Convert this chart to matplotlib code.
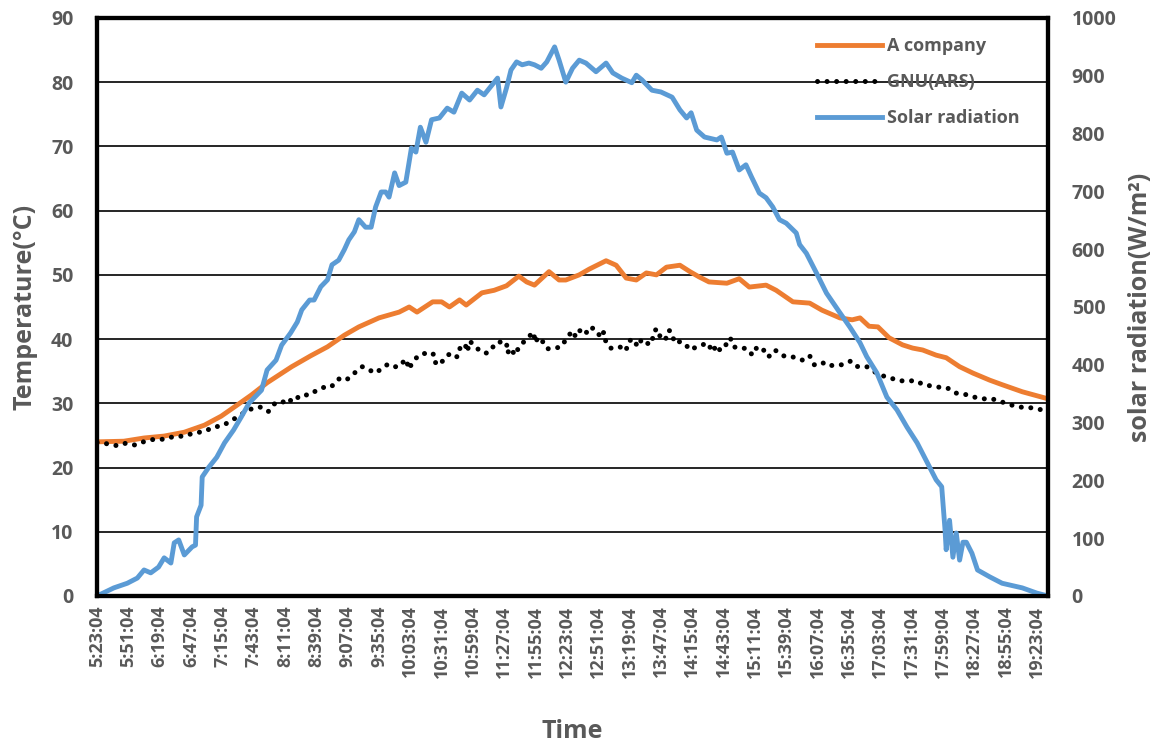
import matplotlib.pyplot as plt

plt.rcParams['font.family'] = ['Open Sans', 'DejaVu Sans']
plt.rcParams['font.weight'] = 'bold'

GRAY = '#595959'

# readings as (minutes after 5:23:04, value)
a_company = [
    (0, 24.0), (24, 24.1), (42, 24.6), (60, 24.9), (78, 25.5), (96, 26.6), (111, 28.0),
    (125, 29.7), (138, 31.3), (152, 33.2), (174, 35.7), (191, 37.4), (206, 38.8),
    (221, 40.6), (234, 41.9), (252, 43.3), (270, 44.2), (279, 45.0), (286, 44.2),
    (300, 45.8), (308, 45.8), (315, 45.0), (324, 46.1), (330, 45.3), (344, 47.2),
    (355, 47.6), (366, 48.3), (377, 49.8), (384, 48.9), (391, 48.4), (404, 50.5),
    (413, 49.2), (419, 49.2), (431, 50.0), (440, 50.9), (455, 52.2), (464, 51.5),
    (473, 49.5), (482, 49.2), (491, 50.3), (500, 50.0), (509, 51.2), (521, 51.5),
    (530, 50.5), (538, 49.7), (547, 48.9), (563, 48.7), (574, 49.4), (583, 48.1),
    (598, 48.4), (607, 47.6), (622, 45.8), (637, 45.6), (648, 44.5), (664, 43.3),
    (675, 43.0), (682, 43.3), (690, 42.0), (698, 41.9), (708, 40.2), (720, 39.1),
    (729, 38.6), (738, 38.3), (750, 37.5), (759, 37.1), (771, 35.7), (783, 34.7),
    (798, 33.6), (809, 32.9), (827, 31.8), (850, 30.7),
]

gnu_ars = [
    (0, 23.9), (9, 23.7), (18, 23.4), (26, 23.8), (34, 23.5), (43, 24.1), (51, 24.4),
    (60, 24.4), (68, 24.8), (78, 24.9), (87, 25.4), (96, 25.6), (104, 26.3), (112, 26.5),
    (120, 27.3), (133, 28.7), (140, 29.3), (146, 29.4), (153, 28.7), (159, 30.0),
    (165, 30.0), (170, 30.8), (175, 30.2), (182, 31.3), (190, 31.3), (197, 32.1),
    (203, 32.5), (209, 32.5), (216, 33.8), (221, 33.5), (225, 33.9), (230, 34.7),
    (237, 35.7), (241, 35.5), (248, 34.7), (254, 35.3), (260, 36.1), (266, 35.7),
    (270, 35.7), (276, 36.9), (279, 35.3), (281, 36.1), (286, 37.2), (292, 37.8),
    (298, 37.4), (301, 37.7), (303, 36.0), (308, 36.4), (313, 37.5), (318, 37.8),
    (322, 37.2), (325, 38.9), (329, 39.2), (331, 38.0), (333, 39.7), (338, 38.9),
    (343, 38.0), (349, 37.8), (354, 38.8), (357, 38.8), (361, 39.7), (366, 39.4),
    (367, 37.8), (369, 38.6), (374, 37.5), (377, 38.8), (384, 40.0), (390, 41.1),
    (392, 39.4), (394, 40.3), (398, 39.7), (402, 38.5), (407, 38.5), (415, 38.8),
    (420, 40.2), (425, 41.3), (428, 40.3), (433, 41.7), (436, 41.3), (439, 40.8),
    (443, 41.7), (447, 41.3), (450, 40.2), (453, 41.1), (455, 39.4), (459, 38.6),
    (464, 38.5), (470, 38.9), (473, 38.3), (475, 39.7), (480, 40.0), (483, 38.8),
    (487, 40.0), (494, 39.1), (496, 39.6), (498, 41.3), (501, 41.6), (504, 40.0),
    (508, 39.9), (511, 41.4), (514, 41.0), (516, 39.4), (521, 39.6), (525, 39.4),
    (530, 38.3), (536, 38.8), (541, 39.1), (546, 39.4), (550, 38.0), (554, 39.1),
    (557, 38.2), (561, 38.8), (566, 40.2), (569, 38.8), (576, 38.5), (580, 38.6),
    (586, 37.5), (590, 38.8), (595, 38.5), (600, 37.2), (606, 38.3), (612, 37.5),
    (617, 37.2), (623, 37.2), (631, 36.7), (637, 37.4), (641, 36.0), (648, 36.4),
    (653, 35.8), (661, 36.0), (666, 36.0), (674, 36.6), (680, 35.7), (688, 35.7),
    (695, 34.9), (702, 34.3), (710, 33.9), (717, 33.5), (725, 33.5), (733, 33.5),
    (738, 32.9), (746, 32.7), (753, 32.5), (760, 32.4), (767, 31.6), (774, 31.5),
    (783, 31.0), (792, 30.7), (800, 30.7), (809, 30.2), (818, 29.7), (826, 29.4),
    (835, 29.3), (844, 29.0), (850, 28.8),
]

solar = [
    (0, 0), (15, 14), (27, 22), (36, 31), (42, 45), (48, 40), (55, 50), (60, 66),
    (66, 57), (69, 92), (73, 97), (78, 71), (85, 85), (88, 88), (89, 137), (93, 157),
    (94, 206), (100, 223), (107, 240), (114, 265), (122, 287), (129, 310), (136, 334),
    (147, 356), (152, 391), (160, 408), (165, 434), (173, 455), (179, 474), (183, 495),
    (190, 512), (194, 512), (200, 535), (206, 547), (210, 573), (216, 581), (221, 599),
    (225, 616), (230, 630), (234, 651), (240, 638), (245, 638), (249, 673), (254, 699),
    (258, 699), (261, 690), (266, 732), (270, 710), (276, 716), (281, 775), (285, 768),
    (289, 811), (294, 785), (299, 824), (306, 827), (313, 844), (319, 837), (326, 870),
    (333, 858), (340, 875), (346, 867), (353, 884), (358, 896), (361, 846), (366, 879),
    (370, 910), (375, 924), (380, 919), (386, 922), (391, 919), (397, 913), (402, 924),
    (409, 950), (413, 927), (419, 889), (425, 913), (431, 927), (437, 922), (446, 907),
    (455, 922), (461, 905), (469, 896), (478, 888), (482, 901), (487, 893), (496, 875),
    (504, 872), (514, 863), (521, 841), (527, 827), (531, 836), (536, 806), (543, 794),
    (554, 789), (558, 794), (563, 766), (568, 768), (574, 737), (580, 746), (585, 725),
    (592, 697), (598, 689), (604, 673), (610, 651), (616, 645), (625, 628), (628, 608),
    (634, 593), (643, 559), (652, 524), (664, 490), (673, 465), (682, 438), (688, 414),
    (697, 386), (706, 344), (715, 322), (724, 292), (733, 265), (741, 235), (750, 201),
    (755, 189), (758, 114), (759, 80), (762, 131), (765, 67), (768, 109), (771, 62),
    (774, 93), (777, 93), (782, 74), (787, 45), (798, 33), (809, 22), (827, 14),
    (840, 5), (850, 0),
]

time_labels = ["5:23:04", "5:51:04", "6:19:04", "6:47:04", "7:15:04", "7:43:04",
               "8:11:04", "8:39:04", "9:07:04", "9:35:04", "10:03:04", "10:31:04",
               "10:59:04", "11:27:04", "11:55:04", "12:23:04", "12:51:04", "13:19:04",
               "13:47:04", "14:15:04", "14:43:04", "15:11:04", "15:39:04", "16:07:04",
               "16:35:04", "17:03:04", "17:31:04", "17:59:04", "18:27:04", "18:55:04",
               "19:23:04"]


def to_minutes(label):
    h, m, _ = label.split(":")
    return int(h) * 60 + int(m) - (5 * 60 + 23)


tick_pos = [to_minutes(s) for s in time_labels]

a_x, a_y = zip(*a_company)
g_x, g_y = zip(*gnu_ars)
s_x, s_y = zip(*solar)

fig = plt.figure(figsize=(11.58, 7.49), dpi=100)
ax = fig.add_axes([0.0838, 0.2043, 0.8212, 0.7717])
ax2 = ax.twinx()

l1, = ax.plot(a_x, a_y, color='#ED7D31', lw=3.5, solid_joinstyle='round', label='A company')
l2, = ax.plot(g_x, g_y, color='black', lw=3.6, linestyle=(0, (0.01, 1.9)),
              dash_capstyle='round', label='GNU(ARS)')
l3, = ax2.plot(s_x, s_y, color='#5B9BD5', lw=3.5, solid_joinstyle='round',
               label='Solar radiation')

ax.set_xlim(0, 850)
ax.set_ylim(0, 90)
ax2.set_ylim(0, 1000)
ax.set_yticks(range(0, 91, 10))
ax2.set_yticks(range(0, 1001, 100))
ax.set_xticks(tick_pos)
ax.set_xticklabels(time_labels, rotation=90)

ax.yaxis.grid(True, color='black', lw=1.2)
ax.set_axisbelow(True)

for a in (ax, ax2):
    for sp in a.spines.values():
        sp.set_linewidth(3.0)
        sp.set_color('black')
    a.tick_params(length=0, colors=GRAY)

for lab in ax.get_xticklabels() + ax.get_yticklabels() + ax2.get_yticklabels():
    lab.set_fontweight('bold')

ax.tick_params(axis='y', labelsize=14, pad=17)
ax2.tick_params(axis='y', labelsize=14, pad=17)
ax.tick_params(axis='x', labelsize=13, pad=7)

ax.set_ylabel('Temperature(°C)', fontsize=18, color=GRAY, fontweight='bold', labelpad=10)
ax2.set_ylabel('solar radiation(W/m²)', fontsize=18, color=GRAY, fontweight='bold', labelpad=8)
ax.set_xlabel('Time', fontsize=18, color=GRAY, fontweight='bold', labelpad=30)

ax2.legend([l1, l2, l3], ['A company', 'GNU(ARS)', 'Solar radiation'],
           loc='upper left', bbox_to_anchor=(0.74, 0.995), frameon=False,
           prop={'size': 13, 'weight': 'bold'}, labelcolor=GRAY, handlelength=3.6,
           handletextpad=0.3, labelspacing=1.0)

fig.savefig('out.png', dpi=100)
